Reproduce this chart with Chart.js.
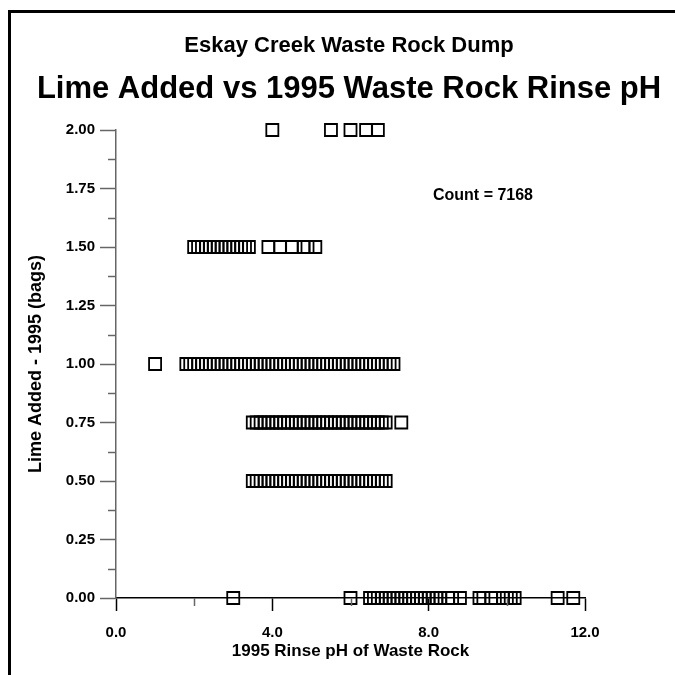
<!DOCTYPE html>
<html>
<head>
<meta charset="utf-8">
<title>Lime Added vs 1995 Waste Rock Rinse pH</title>
<script src="https://cdn.jsdelivr.net/npm/chart.js@4.4.1/dist/chart.umd.min.js"></script>
<style>
    body { margin: 0; background: #fff; }
    #wrap { position: relative; width: 675px; height: 675px; overflow: hidden; }
    #frame { position: absolute; left: 8px; top: 10px; width: 700px; height: 700px;
             border-left: 3px solid #000; border-top: 3px solid #000; pointer-events: none; }
</style>
</head>
<body>
<div id="wrap">
    <canvas id="limeChart" width="675" height="675"></canvas>
    <div id="frame"></div>
</div>
<script>
// rinse pH readings grouped by bags of lime added in 1995
const limeLevels = [2.00, 1.50, 1.00, 0.75, 0.50, 0.00];
const phAt200 = [4.0, 5.5, 6.0, 6.4, 6.7];
const phAt150 = [2.0, 2.1, 2.2, 2.3, 2.4, 2.5, 2.6, 2.7, 2.8, 2.9, 3.0, 3.1, 3.2, 3.3, 3.4,
                 3.9, 4.2, 4.5, 4.8, 4.9, 5.1];
const phAt100 = [1.0, 1.8, 1.9, 2.0, 2.1, 2.2, 2.3, 2.4, 2.5, 2.6, 2.7, 2.8, 2.9, 3.0, 3.1,
                 3.2, 3.3, 3.4, 3.5, 3.6, 3.7, 3.8, 3.9, 4.0, 4.1, 4.2, 4.3, 4.4, 4.5, 4.6,
                 4.7, 4.8, 4.9, 5.0, 5.1, 5.2, 5.3, 5.4, 5.5, 5.6, 5.7, 5.8, 5.9, 6.0, 6.1,
                 6.2, 6.3, 6.4, 6.5, 6.6, 6.7, 6.8, 6.9, 7.0, 7.1];
const phAt075 = [3.5, 3.6, 3.7, 3.8, 3.9, 4.0, 4.1, 4.2, 4.3, 4.4, 4.5, 4.6, 4.7, 4.8, 4.9,
                 5.0, 5.1, 5.2, 5.3, 5.4, 5.5, 5.6, 5.7, 5.8, 5.9, 6.0, 6.1, 6.2, 6.3, 6.4,
                 6.5, 6.6, 6.7, 6.8, 6.9, 7.3];
const phAt050 = [3.5, 3.6, 3.7, 3.8, 3.9, 4.0, 4.1, 4.2, 4.3, 4.4, 4.5, 4.6, 4.7, 4.8, 4.9,
                 5.0, 5.1, 5.2, 5.3, 5.4, 5.5, 5.6, 5.7, 5.8, 5.9, 6.0, 6.1, 6.2, 6.3, 6.4,
                 6.5, 6.6, 6.7, 6.8, 6.9];
const phAt000 = [3.0, 6.0, 6.5, 6.6, 6.7, 6.8, 6.9, 7.0, 7.1, 7.2, 7.3, 7.4, 7.5, 7.6, 7.7,
                 7.8, 7.9, 8.0, 8.1, 8.2, 8.3, 8.5, 8.6, 8.8, 9.3, 9.4, 9.6, 9.9, 10.0, 10.1,
                 10.2, 11.3, 11.7];
const phByLevel = [phAt200, phAt150, phAt100, phAt075, phAt050, phAt000];

const xTickLabels = ['0.0', '4.0', '8.0', '12.0'];
const mainTitle = 'Eskay Creek Waste Rock Dump';
const subTitle = 'Lime Added vs 1995 Waste Rock Rinse pH';
const countText = 'Count = 7168';

const FONT = "'Liberation Sans', Arial, sans-serif";

document.addEventListener('DOMContentLoaded', function() {
    const points = [];
    limeLevels.forEach(function(level, i) {
        phByLevel[i].forEach(function(ph) {
            points.push({ x: ph, y: level });
        });
    });

    // titles, count note and the short minor ticks
    const extras = {
        id: 'extras',
        afterDraw: function(chart) {
            const ctx = chart.ctx;
            const xs = chart.scales.x;
            const ys = chart.scales.y;
            ctx.save();

            ctx.strokeStyle = '#666';
            ctx.lineWidth = 1.5;
            for (let v = 0.125; v < 2; v += 0.25) {
                const py = Math.round(ys.getPixelForValue(v)) + 0.5;
                ctx.beginPath();
                ctx.moveTo(xs.left - 8, py);
                ctx.lineTo(xs.left, py);
                ctx.stroke();
            }
            [2, 6, 10].forEach(function(v) {
                const px = Math.round(xs.getPixelForValue(v)) + 0.5;
                ctx.beginPath();
                ctx.moveTo(px, ys.bottom);
                ctx.lineTo(px, ys.bottom + 8);
                ctx.stroke();
            });

            ctx.fillStyle = '#000';
            ctx.textAlign = 'center';
            ctx.textBaseline = 'middle';
            ctx.font = 'bold 22px ' + FONT;
            ctx.fillText(mainTitle, 349, 46);
            ctx.font = 'bold 31px ' + FONT;
            ctx.fillText(subTitle, 349, 89);
            ctx.font = 'bold 16px ' + FONT;
            ctx.fillText(countText, 483, 196);
            ctx.restore();
        }
    };

    const ctx = document.getElementById('limeChart').getContext('2d');
    new Chart(ctx, {
        type: 'scatter',
        data: {
            datasets: [{
                label: 'Lime added',
                data: points,
                pointStyle: 'rect',
                pointRadius: 8.5,
                pointHoverRadius: 8.5,
                borderColor: '#000',
                backgroundColor: 'rgba(0,0,0,0)',
                borderWidth: 1.8,
                clip: false
            }]
        },
        options: {
            responsive: false,
            animation: false,
            layout: { padding: { top: 130, right: 90, bottom: 0, left: 0 } },
            plugins: {
                legend: { display: false },
                tooltip: { enabled: false }
            },
            scales: {
                x: {
                    type: 'linear',
                    min: 0,
                    max: 12,
                    afterFit: function(scale) { scale.height = 77; },
                    afterBuildTicks: function(scale) {
                        scale.ticks = xTickLabels.map(function(t) { return { value: parseFloat(t) }; });
                    },
                    ticks: {
                        color: '#000',
                        padding: 13,
                        font: { family: FONT, size: 15, weight: 'bold' },
                        callback: function(v) { return v.toFixed(1); }
                    },
                    grid: { drawOnChartArea: false, tickLength: 13, tickColor: '#000', tickWidth: 1.5 },
                    border: { color: '#000', width: 1.5 },
                    title: {
                        display: true,
                        text: '1995 Rinse pH of Waste Rock',
                        color: '#000',
                        font: { family: FONT, size: 17, weight: 'bold' },
                        padding: { top: 0, bottom: 13 }
                    }
                },
                y: {
                    type: 'linear',
                    min: 0,
                    max: 2,
                    afterFit: function(scale) { scale.width = 116; },
                    ticks: {
                        stepSize: 0.25,
                        color: '#000',
                        padding: 5,
                        font: { family: FONT, size: 15, weight: 'bold' },
                        callback: function(v) { return v.toFixed(2); }
                    },
                    grid: { drawOnChartArea: false, tickLength: 16, tickColor: '#666', tickWidth: 1.5 },
                    border: { color: '#666', width: 1.5 },
                    title: {
                        display: true,
                        text: 'Lime Added - 1995 (bags)',
                        color: '#000',
                        font: { family: FONT, size: 18, weight: 'bold' },
                        padding: { top: 25, bottom: 0 }
                    }
                }
            }
        },
        plugins: [extras]
    });
});
</script>
</body>
</html>
